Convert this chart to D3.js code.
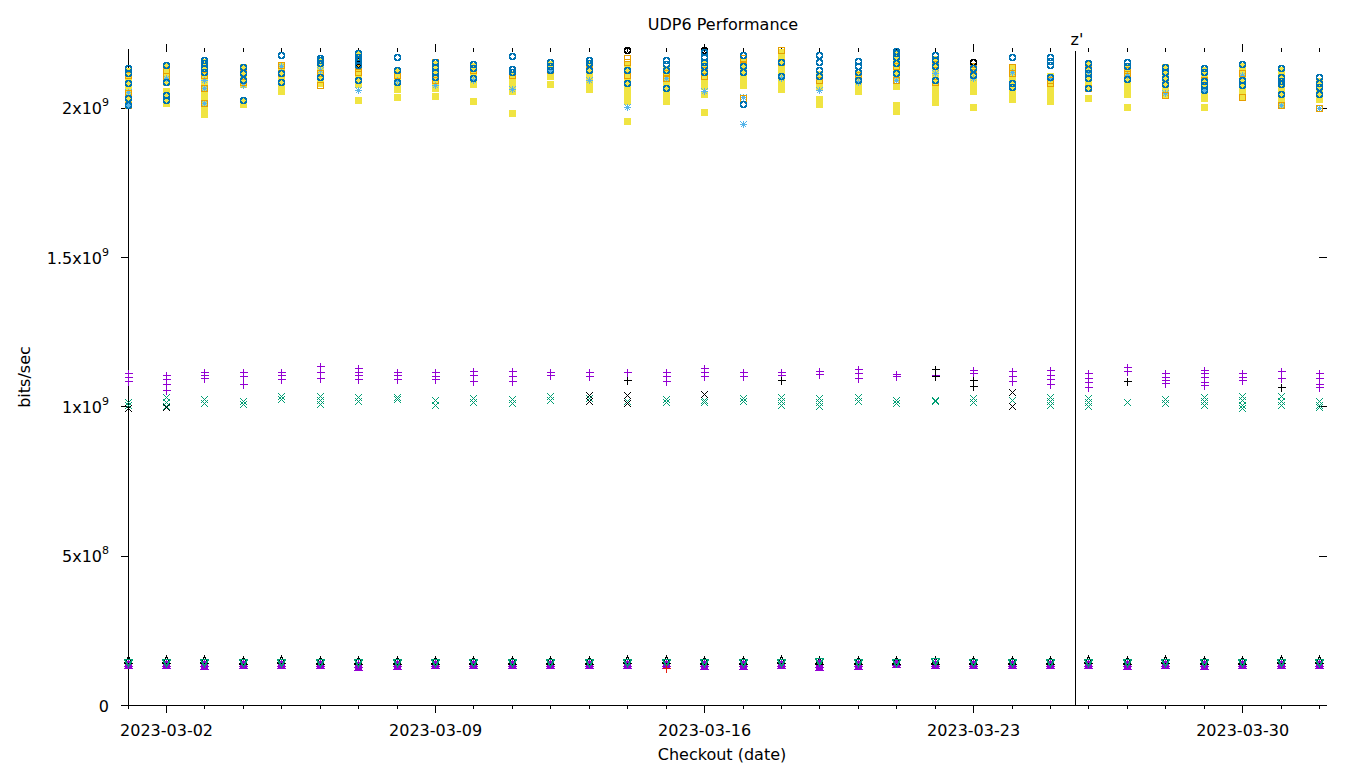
<!DOCTYPE html>
<html><head><meta charset="utf-8">
<script src="https://cdn.jsdelivr.net/npm/d3@7"></script>
<style>body{margin:0;background:#fff}svg{display:block;font-family:"DejaVu Sans",sans-serif}</style>
</head><body><svg id="c" width="1360" height="768"></svg>
<script>
// ---- data (values in units of 1e9 bits/sec) ----
const UNIT = 1e9;
const days = ["2023-03-01","2023-03-02","2023-03-03","2023-03-04","2023-03-05","2023-03-06","2023-03-07","2023-03-08",
"2023-03-09","2023-03-10","2023-03-11","2023-03-12","2023-03-13","2023-03-14","2023-03-15","2023-03-16",
"2023-03-17","2023-03-18","2023-03-19","2023-03-20","2023-03-21","2023-03-22","2023-03-23","2023-03-24",
"2023-03-25","2023-03-26","2023-03-27","2023-03-28","2023-03-29","2023-03-30","2023-03-31","2023-04-01"];
const labelDays = ["2023-03-02","2023-03-09","2023-03-16","2023-03-23","2023-03-30"];
const yTicks = [0, 5e8, 1e9, 1.5e9, 2e9];
const yTickMant = ["0","5","1","1.5","2"];
const yTickExp = ["","8","9","9","9"];
const markerEvents = [{date:"2023-03-25T15:40:00Z", label:"z'"}];

const yellowSquares = [
[2.124,2.104,2.084,2.064,2.044,2.023,2.010],
[2.141,2.121,2.107,2.087,2.057,2.037,2.017],
[2.154,2.134,2.114,2.094,2.074,2.054,2.034,2.013,1.993,1.980],
[2.137,2.117,2.097,2.080,2.023,2.013],
[2.141,2.121,2.100,2.080,2.057],
[2.161,2.141,2.121,2.100,2.084],
[2.181,2.161,2.141,2.121,2.100,2.080,2.027],
[2.124,2.104,2.084,2.064,2.037],
[2.147,2.127,2.107,2.087,2.067,2.040],
[2.141,2.121,2.100,2.080,2.023],
[2.114,2.094,2.074,2.057,1.983],
[2.147,2.127,2.107,2.080],
[2.147,2.127,2.107,2.087,2.064],
[2.147,2.127,2.107,2.087,2.067,2.047,2.023,1.956],
[2.131,2.111,2.090,2.070,2.047,2.023],
[2.154,2.134,2.114,2.094,2.074,2.047,1.987],
[2.154,2.134,2.114,2.094,2.077],
[2.188,2.168,2.147,2.127,2.107,2.087,2.064],
[2.114,2.094,2.074,2.030,2.013],
[2.114,2.094,2.074,2.057],
[2.181,2.161,2.141,2.121,2.100,2.074,2.010,1.990],
[2.164,2.144,2.124,2.104,2.084,2.064,2.044,2.020],
[2.141,2.121,2.100,2.080,2.057,2.003],
[2.134,2.114,2.094,2.074,2.054,2.030],
[2.107,2.087,2.067,2.047,2.023],
[2.147,2.127,2.107,2.087,2.067,2.034],
[2.141,2.121,2.100,2.080,2.060,2.047,2.003],
[2.137,2.117,2.097,2.077,2.057,2.044],
[2.127,2.107,2.087,2.067,2.047,2.034,2.003],
[2.141,2.121,2.100,2.080,2.060,2.040],
[2.127,2.107,2.087,2.067,2.047,2.027,2.010],
[2.090,2.070,2.050,2.030]];

const lightBlueStars = [
[2.054,2.010],[2.100],[2.094,2.067,2.017],[2.077],[2.141],[2.127],[2.060],[2.094],
[2.077],[2.094],[2.064],[2.127],[2.094],[2.003],[2.100],[2.057],
[2.037,1.946],[2.100],[2.060],[2.087],[2.094],[2.117],[2.100],[2.121],
[2.100],[2.121],[2.111],[2.050],[2.060],[2.111],[2.010],[2.000]];

const orangeSquares = [
[2.111,2.050,2.010],[2.127,2.107],[2.111,2.067,2.017],[2.121,2.087],[2.144,2.117],[2.117,2.077],[2.134,2.121],[2.111],
[2.154,2.094],[2.127],[2.111],[2.141,2.127],[2.131],[2.168,2.154,2.111],[2.117,2.100],[2.127,2.107],
[2.168,2.144,2.034],[2.194,2.154],[2.094],[2.111],[2.141,2.094],[2.147,2.087],[2.141,2.127,2.114],[2.137,2.117],
[2.094,2.084],[2.147,2.067],[2.127,2.114],[2.044],[2.094],[2.117,2.037],[2.100,2.010],[2.000]];

const blackCircles = [
[],[],[],[],[],[],[2.157,2.147],[],
[],[],[],[],[],[2.194],[],[2.194],
[],[],[],[],[],[],[2.154],[],
[],[],[],[],[],[],[],[]];

const blueCircles = [
[2.134,2.117,2.084,2.034,2.010],[2.144,2.087,2.044,2.027],[2.161,2.151,2.134,2.121],[2.137,2.117,2.094,2.027],
[2.178,2.117,2.087],[2.168,2.161,2.151,2.104],[2.184,2.171,2.161,2.144,2.094],[2.171,2.127,2.087],
[2.154,2.137,2.121,2.104],[2.147,2.134,2.100],[2.174,2.131,2.121],[2.154,2.141,2.127],
[2.161,2.151,2.127],[2.127,2.084],[2.161,2.147,2.127,2.067],[2.188,2.171,2.154,2.141,2.121],
[2.178,2.141,2.121,2.013],[2.154,2.107],[2.178,2.154,2.127,2.107],[2.157,2.141,2.121,2.094],
[2.191,2.184,2.171,2.151,2.117],[2.178,2.161,2.141,2.094],[2.134,2.111],[2.171,2.084,2.070],
[2.171,2.157,2.144,2.104],[2.151,2.131,2.117,2.100,2.067],[2.154,2.141,2.097],[2.137,2.121,2.100,2.080],
[2.134,2.121,2.090,2.077,2.060],[2.147,2.094,2.077],[2.134,2.104,2.090,2.080,2.047],[2.104,2.084,2.070,2.047]];

const purplePlus = [
[1.112,1.099,1.085],[1.106,1.092,1.075,1.055],[1.116,1.106,1.095],[1.116,1.102,1.075],
[1.116,1.106,1.092],[1.136,1.116,1.095],[1.129,1.116,1.106,1.092],[1.116,1.106,1.092],
[1.116,1.102,1.092],[1.119,1.106,1.085],[1.119,1.102,1.085],[1.116,1.106],
[1.116,1.102],[1.116],[1.116,1.102,1.085],[1.129,1.116,1.102],
[1.116,1.102],[1.116,1.106],[1.119,1.109],[1.126,1.112,1.095],
[1.109,1.102],[1.106],[1.122,1.112],[1.119,1.102,1.085],
[1.122,1.106,1.092,1.075],[1.112,1.095,1.082,1.065],[1.132,1.119],[1.112,1.099,1.089,1.079],
[1.122,1.112,1.099,1.082,1.072],[1.112,1.099,1.089],[1.119,1.095],[1.112,1.095,1.075,1.065]];

const blackPlus = [
[],[],[],[],[],[],[],[],
[],[],[],[],[],[1.089],[],[],
[],[1.089],[],[],[],[1.126,1.102],[1.089,1.069],[],
[],[],[1.085],[],[],[],[1.065],[]];

const greenCross = [
[1.015,1.005],[1.032,1.015,1.002],[1.025,1.012],[1.018,1.008],[1.035,1.025],[1.035,1.022,1.008],[1.032,1.018],[1.032,1.025],
[1.022,1.005],[1.028,1.015],[1.025,1.012],[1.035,1.022],[1.028],[1.018],[1.025,1.015],[1.022,1.015],
[1.028,1.018],[1.032,1.018,1.005],[1.028,1.015,1.002],[1.032,1.018],[1.022,1.012],[1.022,1.018],[1.028,1.015],[1.022],
[1.032,1.018,1.005],[1.028,1.015,1.002],[1.015],[1.025,1.012],[1.032,1.018,1.005],[1.035,1.022,1.005,0.995],[1.035,1.018,1.005],[1.018,1.005,0.998]];

const blackCross = [
[0.995],[0.998],[],[],[],[],[],[],
[],[],[],[],[1.039,1.018],[1.039,1.012],[],[1.042],
[],[],[],[],[],[],[],[1.049,1.002],
[],[],[],[],[],[],[],[]];

const purpleTriangles = [
[0.140,0.133],[0.141,0.134],[0.140,0.132],[0.141,0.134],[0.141,0.134],[0.141,0.134],[0.138,0.128],[0.140,0.132],
[0.140,0.133],[0.141,0.134],[0.140,0.133],[0.141,0.134],[0.141,0.134],[0.140,0.133],[0.140,0.133],[0.140,0.131],
[0.140,0.132],[0.141,0.133],[0.147,0.137,0.127],[0.140,0.132],[0.144,0.137],[0.141,0.133],[0.140,0.133],[0.141,0.134],
[0.141,0.133],[0.141,0.134],[0.140,0.130],[0.141,0.134],[0.140,0.131],[0.141,0.134],[0.141,0.134],[0.141,0.134]];

const blackTriangles = [
[0.150],[0.150],[0.151],[0.148],[0.150],[0.148],[0.148],[0.148],
[0.148],[0.148],[0.148],[0.148],[0.148],[0.150],[0.150],[0.148],
[0.148],[0.150],[0.148],[0.148],[0.148],[0.148],[0.148],[0.148],
[0.148],[0.150],[0.148],[0.150],[0.148],[0.148],[0.150],[0.150]];

const greenTriangles = [
[0.144],[0.145],[0.143],[0.145],[0.145],[0.145],[0.144],[0.144],
[0.144],[0.144],[0.144],[0.145],[0.144],[0.145],[0.144],[0.144],
[0.144],[0.144],[0.146],[0.144],[0.144],[0.147],[0.145],[0.144],
[0.144],[0.145],[0.144],[0.145],[0.144],[0.144],[0.145],[0.145]];

const redPlus = [
[],[],[],[],[],[],[],[],
[],[],[],[],[],[],[0.124],[],
[],[],[],[],[],[],[],[],
[],[],[],[],[],[],[],[]];

// ---- drawing ----
const svg = d3.select("#c");
const parse = s => new Date(s.length === 10 ? s + "T00:00:00Z" : s);
const x = d3.scaleUtc().domain([parse("2023-03-01"), parse("2023-04-01T05:00:00Z")]).range([127.6, 1327]);
const y = d3.scaleLinear().domain([0, 2.2e9]).range([705, 48]);

const shapes = {
  plus:   {d:"M-4,0H4M0,-4V4", fill:false, sw:1},
  cross:  {d:"M-3.5,-3.5L3.5,3.5M-3.5,3.5L3.5,-3.5", fill:false, sw:1},
  star:   {d:"M-3.5,0H3.5M0,-3.5V3.5M-3,-3L3,3M-3,3L3,-3", fill:false, sw:1},
  osq:    {d:"M-3,-3H3V3H-3Z", fill:false, sw:1},
  fsq:    {d:"M-3.5,-3.5H3.5V3.5H-3.5Z", fill:true},
  ocirc:  {d:"M3,0A3,3 0 1,1 -3,0A3,3 0 1,1 3,0Z", fill:false, sw:1.5},
  ftriUp: {d:"M0,-4.5L4.5,3.5H-4.5Z", fill:true},
  otriUp: {d:"M0,-4L4,3H-4Z", fill:false, sw:1},
  otriDn: {d:"M-4,-3H4L0,4Z", fill:false, sw:1.6}
};

const series = [
  {data: yellowSquares,  shape:"fsq",   color:"#f0e442"},
  {data: lightBlueStars, shape:"star",  color:"#56b4e9"},
  {data: orangeSquares,  shape:"osq",   color:"#e69f00"},
  {data: blackCircles,   shape:"ocirc", color:"#000000"},
  {data: blueCircles,    shape:"ocirc", color:"#0072b2"},
  {data: purplePlus,     shape:"plus",  color:"#9400d3"},
  {data: blackPlus,      shape:"plus",  color:"#000000"},
  {data: greenCross,     shape:"cross", color:"#009e73"},
  {data: blackCross,     shape:"cross", color:"#000000"},
  {data: purpleTriangles,shape:"ftriUp",color:"#9400d3"},
  {data: blackTriangles, shape:"otriUp",color:"#000000"},
  {data: greenTriangles, shape:"otriDn",color:"#009e73"},
  {data: redPlus,        shape:"plus",  color:"#e51e10"}
];

// axes
const axisG = svg.append("g").attr("shape-rendering","crispEdges");
const dayDates = days.map(parse);
const majorDates = labelDays.map(parse);
axisG.append("g").attr("transform","translate(0,705)")
  .call(d3.axisBottom(x).tickValues(dayDates).tickSize(4).tickSizeOuter(0).tickFormat(""))
  .call(g => g.select(".domain").attr("d","M121,0.5H1327"));
axisG.append("g").attr("transform","translate(0,705)")
  .call(d3.axisBottom(x).tickValues(majorDates).tickSize(8).tickPadding(12).tickFormat(d3.utcFormat("%Y-%m-%d")))
  .call(g => g.select(".domain").remove());
axisG.append("g").attr("transform","translate(0,52)")
  .call(d3.axisTop(x).tickValues(dayDates.slice(1)).tickSize(4).tickFormat(""))
  .call(g => g.select(".domain").remove());
axisG.append("g").attr("transform","translate(0,52)")
  .call(d3.axisTop(x).tickValues(majorDates).tickSize(8).tickFormat(""))
  .call(g => g.select(".domain").remove());
axisG.append("g").attr("transform","translate(128,0)")
  .call(d3.axisLeft(y).tickValues(yTicks).tickSize(7).tickPadding(12).tickSizeOuter(0))
  .call(g => g.selectAll(".tick text").each(function(d, i){
      const t = d3.select(this).text(null).attr("dy","0.38em");
      if (yTickExp[i] === "") { t.text(yTickMant[i]); return; }
      t.append("tspan").text(yTickMant[i] + "x10");
      t.append("tspan").attr("dy","-8").attr("font-size","11").text(yTickExp[i]);
  }));
axisG.append("g").attr("transform","translate(1327,0)")
  .call(d3.axisRight(y).tickValues(yTicks).tickSize(-8).tickFormat(""))
  .call(g => g.select(".domain").remove());
axisG.selectAll("text").attr("font-family","DejaVu Sans, sans-serif").attr("font-size",16).attr("fill","#000");
axisG.selectAll("line,path").attr("stroke","#000");

markerEvents.forEach(m => {
  const mx = Math.round(x(parse(m.date))) + 0.5;
  svg.append("line").attr("x1",mx).attr("x2",mx).attr("y1",51).attr("y2",705)
     .attr("stroke","#000").attr("stroke-width",1).attr("shape-rendering","crispEdges");
  svg.append("text").attr("x",mx-5).attr("y",45).attr("font-size",16).text(m.label);
});

series.forEach(s => {
  const pts = [];
  s.data.forEach((vals, i) => vals.forEach(v => pts.push({d: dayDates[i], v: v * UNIT})));
  const sh = shapes[s.shape];
  svg.append("g").attr("shape-rendering","crispEdges").selectAll("path").data(pts).join("path")
    .attr("transform", p => `translate(${Math.round(x(p.d))+0.5},${Math.round(y(p.v))+0.5})`)
    .attr("d", sh.d)
    .attr("fill", sh.fill ? s.color : "none")
    .attr("stroke", sh.fill ? "none" : s.color)
    .attr("stroke-width", sh.sw || 0);
});

svg.append("text").attr("x",723).attr("y",30).attr("text-anchor","middle").attr("font-size",16).text("UDP6 Performance");
svg.append("text").attr("x",722).attr("y",760).attr("text-anchor","middle").attr("font-size",16).text("Checkout (date)");
svg.append("text").attr("transform","translate(30,377) rotate(-90)").attr("text-anchor","middle").attr("font-size",16).text("bits/sec");
</script></body></html>
